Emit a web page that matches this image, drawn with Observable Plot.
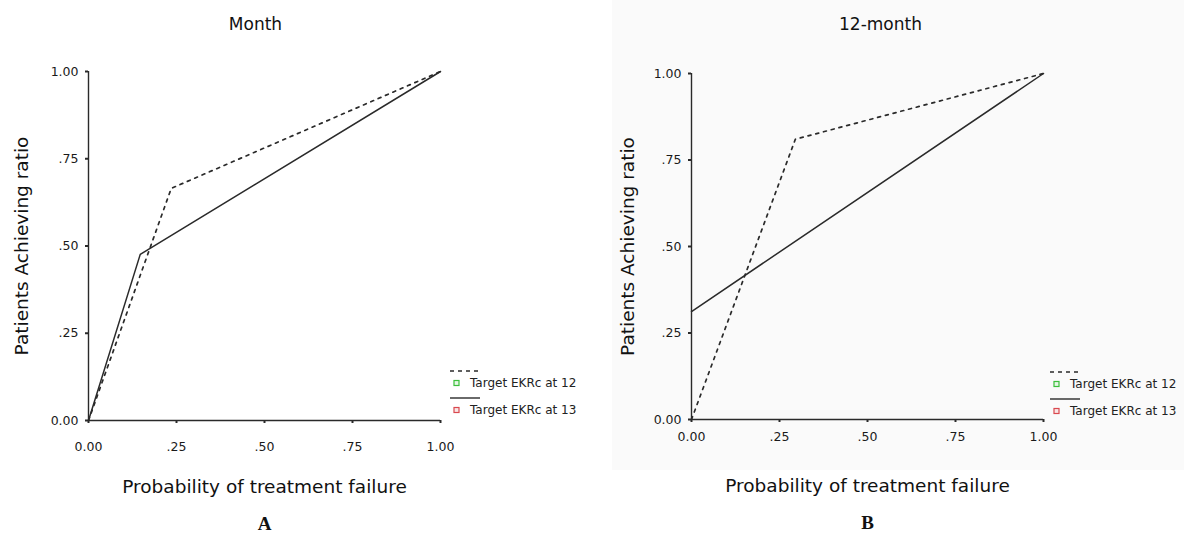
<!DOCTYPE html>
<html>
<head>
<meta charset="utf-8">
<script src="https://cdn.jsdelivr.net/npm/d3@7"></script>
<script src="https://cdn.jsdelivr.net/npm/@observablehq/plot@0.6"></script>
<style>
  html, body { margin: 0; padding: 0; background: #fff; }
  #wrap { position: relative; width: 1184px; height: 536px; overflow: hidden; font-family: "DejaVu Sans", sans-serif; }
  .panel { position: absolute; top: 0; }
  .legend { position: absolute; }
  .bgB { position: absolute; left: 612px; top: 0; width: 572px; height: 470px; background: #fafafa; }
</style>
</head>
<body>
<div id="wrap"><div class="bgB"></div></div>
<script>
// ---- data ----
const xTicks = [0, 0.25, 0.5, 0.75, 1];
const xTickLabels = ["0.00", ".25", ".50", ".75", "1.00"];
const yTicks = [0, 0.25, 0.5, 0.75, 1];
const yTickLabels = ["0.00", ".25", ".50", ".75", "1.00"];

const seriesNames = ["Target EKRc at 12", "Target EKRc at 13"];
const panelTitles = ["Month", "12-month"];
const panelLetters = ["A", "B"];
const xLabel = "Probability of treatment failure";
const yLabel = "Patients Achieving ratio";

// Panel A
const aDashedX = [0, 0.235, 1];
const aDashedY = [0, 0.665, 1];
const aSolidX = [0, 0.147, 1];
const aSolidY = [0, 0.476, 1];
// Panel B
const bDashedX = [0, 0.295, 1];
const bDashedY = [0, 0.81, 1];
const bSolidX = [0, 1];
const bSolidY = [0.312, 1];

const toRows = (xs, ys) => xs.map((x, i) => ({x, y: ys[i]}));

const ink = "#2a2a2a";

function panel(cfg) {
  const {dashed, solid, ml, mr, mt, mb, xPad, title, titleDx, letter, yLabDx} = cfg;
  return Plot.plot({
    width: 592,
    height: 536,
    marginLeft: ml,
    marginRight: mr,
    marginTop: mt,
    marginBottom: mb,
    x: {domain: [0, 1]},
    y: {domain: [0, 1]},
    style: {fontFamily: "DejaVu Sans", fontSize: "12px", color: ink, background: "transparent", overflow: "visible"},
    marks: [
      Plot.ruleX([0], {stroke: ink, strokeWidth: 1.4}),
      Plot.ruleY([0], {stroke: ink, strokeWidth: 1.4}),
      Plot.axisY({ticks: yTicks, tickFormat: (d, i) => yTickLabels[i], tickSize: 3, tickPadding: 7, strokeWidth: 2, fontSize: 12.5, label: null, stroke: ink, fill: "#1a1a1a"}),
      Plot.axisX({ticks: xTicks, tickFormat: (d, i) => xTickLabels[i], tickSize: 3, tickPadding: xPad, strokeWidth: 2, fontSize: 12.5, label: null, stroke: ink, fill: "#1a1a1a"}),
      Plot.line(toRows(dashed[0], dashed[1]), {x: "x", y: "y", stroke: ink, strokeWidth: 1.7, strokeDasharray: "3,5"}),
      Plot.line(toRows(solid[0], solid[1]), {x: "x", y: "y", stroke: ink, strokeWidth: 1.5}),
      Plot.text([title], {frameAnchor: "top", dy: 24 - mt, dx: titleDx, fontSize: 17, fill: "#111", lineAnchor: "middle"}),
      Plot.text([xLabel], {frameAnchor: "bottom", dy: 67, fontSize: 18.5, fill: "#111", lineAnchor: "middle"}),
      Plot.text([yLabel], {frameAnchor: "left", dx: yLabDx, rotate: -90, textAnchor: "middle", fontSize: 18.5, fill: "#111", lineAnchor: "middle"}),
      Plot.text([letter], {frameAnchor: "bottom", dy: 103, fontSize: 19, fontWeight: "bold", fontFamily: "Liberation Serif", fill: "#111", lineAnchor: "middle"})
    ]
  });
}

const wrap = document.getElementById("wrap");

const pA = panel({
  dashed: [aDashedX, aDashedY], solid: [aSolidX, aSolidY],
  ml: 88, mr: 152, mt: 71, mb: 116, xPad: 19,
  title: panelTitles[0], titleDx: -9, letter: panelLetters[0], yLabDx: -66
});
pA.classList.add("panel");
pA.style.left = "0px";
wrap.appendChild(pA);

const pB = panel({
  dashed: [bDashedX, bDashedY], solid: [bSolidX, bSolidY],
  ml: 99, mr: 141, mt: 73, mb: 117, xPad: 10,
  title: panelTitles[1], titleDx: 13, letter: panelLetters[1], yLabDx: -63
});
pB.classList.add("panel");
pB.style.left = "592px";
wrap.appendChild(pB);

// legends
function legend(left, top) {
  const ns = "http://www.w3.org/2000/svg";
  const svg = document.createElementNS(ns, "svg");
  svg.setAttribute("width", 140);
  svg.setAttribute("height", 50);
  svg.setAttribute("class", "legend");
  svg.style.left = left + "px";
  svg.style.top = top + "px";
  svg.innerHTML = `
    <line x1="0" y1="3" x2="30" y2="3" stroke="${ink}" stroke-width="1.4" stroke-dasharray="4,4"/>
    <rect x="4" y="12.5" width="5" height="5" fill="#e6f7e6" stroke="#3cbf3c" stroke-width="1.2"/>
    <text x="20" y="15" dy="0.35em" font-family="DejaVu Sans" font-size="12" fill="#222">${seriesNames[0]}</text>
    <line x1="0" y1="30" x2="30" y2="30" stroke="${ink}" stroke-width="1.4"/>
    <rect x="4" y="39.5" width="5" height="5" fill="#f9e6e6" stroke="#d9484f" stroke-width="1.2"/>
    <text x="20" y="42" dy="0.35em" font-family="DejaVu Sans" font-size="12" fill="#222">${seriesNames[1]}</text>`;
  wrap.appendChild(svg);
}
legend(450, 368);
legend(1050, 369);
</script>
</body>
</html>
